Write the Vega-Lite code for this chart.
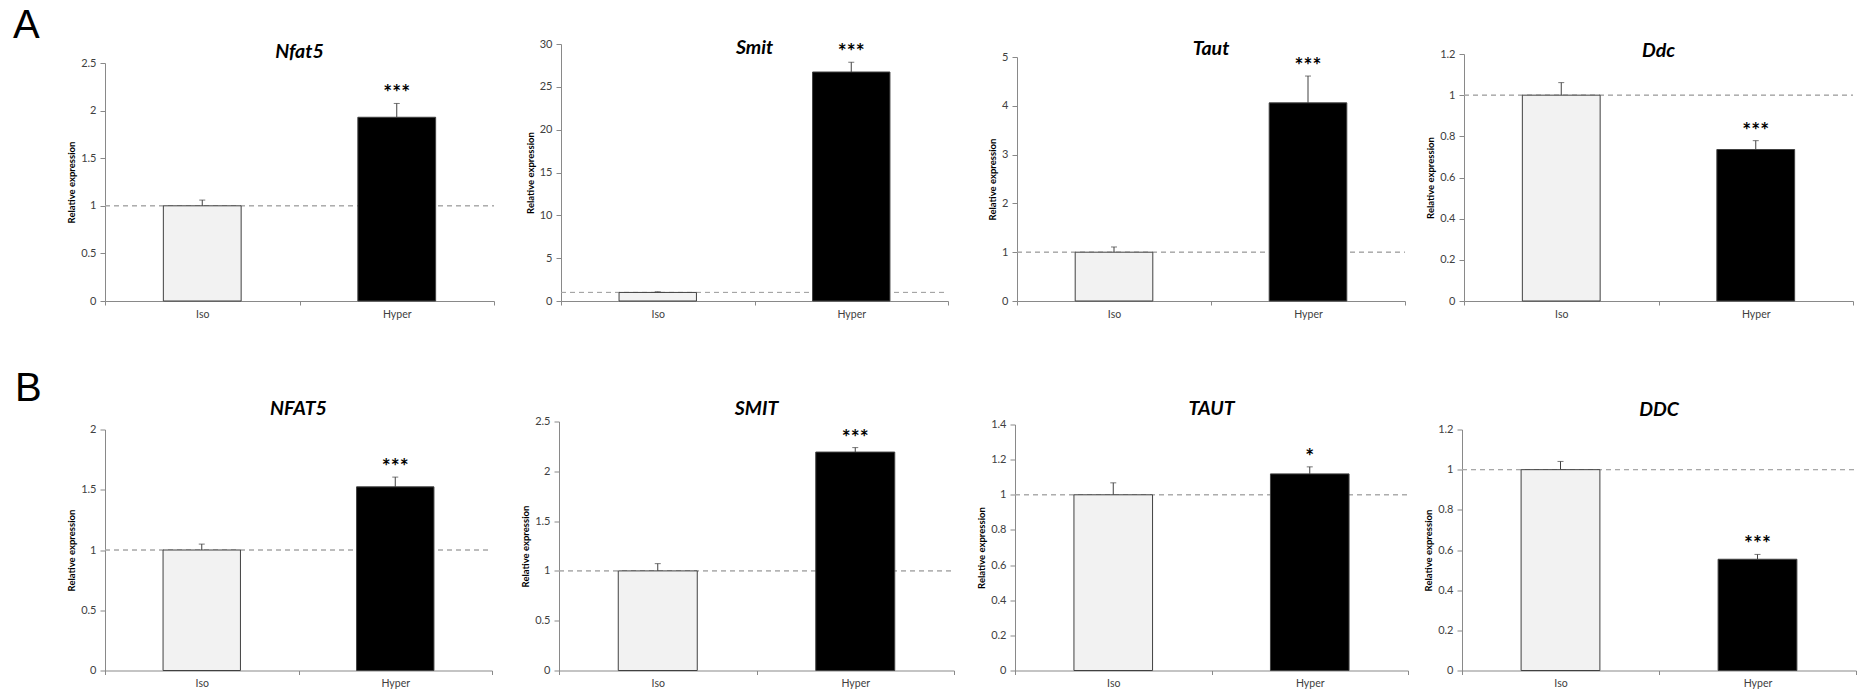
{
  "$schema": "https://vega.github.io/schema/vega-lite/v6.json",
  "padding": {"left": 13, "top": 5, "right": 0, "bottom": 0},
  "data": {"values": [
    {"gene": "Nfat5", "condition": "Iso", "expression": 1.0, "upper": 1.06, "sig": ""},
    {"gene": "Nfat5", "condition": "Hyper", "expression": 1.93, "upper": 2.075, "sig": "***"},
    {"gene": "Smit", "condition": "Iso", "expression": 1.0, "upper": 1.08, "sig": ""},
    {"gene": "Smit", "condition": "Hyper", "expression": 26.73, "upper": 27.87, "sig": "***"},
    {"gene": "Taut", "condition": "Iso", "expression": 1.0, "upper": 1.107, "sig": ""},
    {"gene": "Taut", "condition": "Hyper", "expression": 4.06, "upper": 4.61, "sig": "***"},
    {"gene": "Ddc", "condition": "Iso", "expression": 1.0, "upper": 1.061, "sig": ""},
    {"gene": "Ddc", "condition": "Hyper", "expression": 0.736, "upper": 0.779, "sig": "***"},
    {"gene": "NFAT5", "condition": "Iso", "expression": 1.0, "upper": 1.049, "sig": ""},
    {"gene": "NFAT5", "condition": "Hyper", "expression": 1.524, "upper": 1.605, "sig": "***"},
    {"gene": "SMIT", "condition": "Iso", "expression": 1.0, "upper": 1.073, "sig": ""},
    {"gene": "SMIT", "condition": "Hyper", "expression": 2.193, "upper": 2.238, "sig": "***"},
    {"gene": "TAUT", "condition": "Iso", "expression": 1.0, "upper": 1.068, "sig": ""},
    {"gene": "TAUT", "condition": "Hyper", "expression": 1.119, "upper": 1.159, "sig": "*"},
    {"gene": "DDC", "condition": "Iso", "expression": 1.0, "upper": 1.041, "sig": ""},
    {"gene": "DDC", "condition": "Hyper", "expression": 0.554, "upper": 0.578, "sig": "***"}
  ]},
  "spacing": 48.5,
  "vconcat": [
    {
      "title": {"text": "A", "font": "Liberation Sans", "fontSize": 40, "fontWeight": "normal", "fontStyle": "normal", "anchor": "start", "frame": "group", "dx": -92, "offset": -28, "baseline": "middle"},
      "bounds": "flush",
      "spacing": 59,
      "hconcat": [
        {
          "width": 397, "height": 257,
          "title": {"text": "Nfat5", "offset": -18, "dx": -4},
          "transform": [{"filter": {"field": "gene", "equal": "Nfat5"}}],
          "encoding": {"x": {"field": "condition", "type": "nominal", "title": null, "sort": ["Iso", "Hyper"], "scale": {"domain": ["Iso", "Hyper"], "paddingInner": 0, "paddingOuter": 0, "range": [0, 389]}}},
          "layer": [
            {"mark": {"type": "rule", "color": "#a6a6a6", "strokeDash": [5, 4], "strokeWidth": 1}, "encoding": {"x": {"datum": "Iso", "bandPosition": 0}, "x2": {"datum": "Hyper", "bandPosition": 1}, "y": {"datum": 1}}},
            {"mark": {"type": "bar", "width": {"band": 0.4}, "stroke": "#404040", "strokeWidth": 1}, "encoding": {
              "y": {"field": "expression", "type": "quantitative", "title": "Relative expression", "scale": {"domain": [0, 2.5], "range": [257, 19], "nice": false, "zero": true}, "axis": {"values": [0, 0.5, 1, 1.5, 2, 2.5], "format": "~g"}},
              "fill": {"field": "condition", "type": "nominal", "scale": {"domain": ["Iso", "Hyper"], "range": ["#f2f2f2", "#000000"]}, "legend": null}}},
            {"mark": {"type": "rule", "color": "#404040", "strokeWidth": 1}, "encoding": {"y": {"field": "expression", "type": "quantitative"}, "y2": {"field": "upper"}}},
            {"mark": {"type": "tick", "color": "#404040", "thickness": 1, "size": 6}, "encoding": {"y": {"field": "upper", "type": "quantitative"}}},
            {"mark": {"type": "text", "font": "Lato", "fontSize": 21, "fontWeight": "bold", "dy": -3, "baseline": "alphabetic", "color": "#000000"}, "encoding": {"y": {"field": "upper", "type": "quantitative"}, "text": {"field": "sig"}}}
          ]
        },
        {
          "width": 397, "height": 257,
          "title": {"text": "Smit", "offset": -20, "dx": -5},
          "transform": [{"filter": {"field": "gene", "equal": "Smit"}}],
          "encoding": {"x": {"field": "condition", "type": "nominal", "title": null, "sort": ["Iso", "Hyper"], "scale": {"domain": ["Iso", "Hyper"], "paddingInner": 0, "paddingOuter": 0, "range": [0, 387]}}},
          "layer": [
            {"mark": {"type": "rule", "color": "#a6a6a6", "strokeDash": [5, 4], "strokeWidth": 1}, "encoding": {"x": {"datum": "Iso", "bandPosition": 0}, "x2": {"datum": "Hyper", "bandPosition": 1}, "y": {"datum": 1}}},
            {"mark": {"type": "bar", "width": {"band": 0.4}, "stroke": "#404040", "strokeWidth": 1}, "encoding": {
              "y": {"field": "expression", "type": "quantitative", "title": "Relative expression", "scale": {"domain": [0, 30], "range": [257, 0], "nice": false, "zero": true}, "axis": {"values": [0, 5, 10, 15, 20, 25, 30], "format": "~g"}},
              "fill": {"field": "condition", "type": "nominal", "scale": {"domain": ["Iso", "Hyper"], "range": ["#f2f2f2", "#000000"]}, "legend": null}}},
            {"mark": {"type": "rule", "color": "#404040", "strokeWidth": 1}, "encoding": {"y": {"field": "expression", "type": "quantitative"}, "y2": {"field": "upper"}}},
            {"mark": {"type": "tick", "color": "#404040", "thickness": 1, "size": 6}, "encoding": {"y": {"field": "upper", "type": "quantitative"}}},
            {"mark": {"type": "text", "font": "Lato", "fontSize": 21, "fontWeight": "bold", "dy": -3, "baseline": "alphabetic", "color": "#000000"}, "encoding": {"y": {"field": "upper", "type": "quantitative"}, "text": {"field": "sig"}}}
          ]
        },
        {
          "width": 388, "height": 257,
          "title": {"text": "Taut", "offset": -15},
          "transform": [{"filter": {"field": "gene", "equal": "Taut"}}],
          "encoding": {"x": {"field": "condition", "type": "nominal", "title": null, "sort": ["Iso", "Hyper"], "scale": {"domain": ["Iso", "Hyper"], "paddingInner": 0, "paddingOuter": 0}}},
          "layer": [
            {"mark": {"type": "rule", "color": "#a6a6a6", "strokeDash": [5, 4], "strokeWidth": 1}, "encoding": {"x": {"datum": "Iso", "bandPosition": 0}, "x2": {"datum": "Hyper", "bandPosition": 1}, "y": {"datum": 1}}},
            {"mark": {"type": "bar", "width": {"band": 0.4}, "stroke": "#404040", "strokeWidth": 1}, "encoding": {
              "y": {"field": "expression", "type": "quantitative", "title": "Relative expression", "scale": {"domain": [0, 5], "range": [257, 13], "nice": false, "zero": true}, "axis": {"values": [0, 1, 2, 3, 4, 5], "format": "~g"}},
              "fill": {"field": "condition", "type": "nominal", "scale": {"domain": ["Iso", "Hyper"], "range": ["#f2f2f2", "#000000"]}, "legend": null}}},
            {"mark": {"type": "rule", "color": "#404040", "strokeWidth": 1}, "encoding": {"y": {"field": "expression", "type": "quantitative"}, "y2": {"field": "upper"}}},
            {"mark": {"type": "tick", "color": "#404040", "thickness": 1, "size": 6}, "encoding": {"y": {"field": "upper", "type": "quantitative"}}},
            {"mark": {"type": "text", "font": "Lato", "fontSize": 21, "fontWeight": "bold", "dy": -3, "baseline": "alphabetic", "color": "#000000"}, "encoding": {"y": {"field": "upper", "type": "quantitative"}, "text": {"field": "sig"}}}
          ]
        },
        {
          "width": 389, "height": 257,
          "title": {"text": "Ddc", "offset": -17},
          "transform": [{"filter": {"field": "gene", "equal": "Ddc"}}],
          "encoding": {"x": {"field": "condition", "type": "nominal", "title": null, "sort": ["Iso", "Hyper"], "scale": {"domain": ["Iso", "Hyper"], "paddingInner": 0, "paddingOuter": 0}}},
          "layer": [
            {"mark": {"type": "rule", "color": "#a6a6a6", "strokeDash": [5, 4], "strokeWidth": 1}, "encoding": {"x": {"datum": "Iso", "bandPosition": 0}, "x2": {"datum": "Hyper", "bandPosition": 1}, "y": {"datum": 1}}},
            {"mark": {"type": "bar", "width": {"band": 0.4}, "stroke": "#404040", "strokeWidth": 1}, "encoding": {
              "y": {"field": "expression", "type": "quantitative", "title": "Relative expression", "scale": {"domain": [0, 1.2], "range": [257, 10], "nice": false, "zero": true}, "axis": {"values": [0, 0.2, 0.4, 0.6, 0.8, 1, 1.2], "format": "~g"}},
              "fill": {"field": "condition", "type": "nominal", "scale": {"domain": ["Iso", "Hyper"], "range": ["#f2f2f2", "#000000"]}, "legend": null}}},
            {"mark": {"type": "rule", "color": "#404040", "strokeWidth": 1}, "encoding": {"y": {"field": "expression", "type": "quantitative"}, "y2": {"field": "upper"}}},
            {"mark": {"type": "tick", "color": "#404040", "thickness": 1, "size": 6}, "encoding": {"y": {"field": "upper", "type": "quantitative"}}},
            {"mark": {"type": "text", "font": "Lato", "fontSize": 21, "fontWeight": "bold", "dy": -3, "baseline": "alphabetic", "color": "#000000"}, "encoding": {"y": {"field": "upper", "type": "quantitative"}, "text": {"field": "sig"}}}
          ]
        }
      ]
    },
    {
      "title": {"text": "B", "font": "Liberation Sans", "fontSize": 40, "fontWeight": "normal", "fontStyle": "normal", "anchor": "start", "frame": "group", "dx": -90, "offset": -29.5, "baseline": "middle"},
      "bounds": "flush",
      "spacing": 54,
      "hconcat": [
        {
          "width": 400, "height": 249,
          "title": {"text": "NFAT5", "offset": 2, "dx": -6.5},
          "transform": [{"filter": {"field": "gene", "equal": "NFAT5"}}],
          "encoding": {"x": {"field": "condition", "type": "nominal", "title": null, "sort": ["Iso", "Hyper"], "scale": {"domain": ["Iso", "Hyper"], "paddingInner": 0, "paddingOuter": 0, "range": [0, 387]}}},
          "layer": [
            {"mark": {"type": "rule", "color": "#a6a6a6", "strokeDash": [5, 4], "strokeWidth": 1}, "encoding": {"x": {"datum": "Iso", "bandPosition": 0}, "x2": {"datum": "Hyper", "bandPosition": 1}, "y": {"datum": 1}}},
            {"mark": {"type": "bar", "width": {"band": 0.4}, "stroke": "#404040", "strokeWidth": 1}, "encoding": {
              "y": {"field": "expression", "type": "quantitative", "title": "Relative expression", "scale": {"domain": [0, 2], "range": [249, 8], "nice": false, "zero": true}, "axis": {"values": [0, 0.5, 1, 1.5, 2], "format": "~g"}},
              "fill": {"field": "condition", "type": "nominal", "scale": {"domain": ["Iso", "Hyper"], "range": ["#f2f2f2", "#000000"]}, "legend": null}}},
            {"mark": {"type": "rule", "color": "#404040", "strokeWidth": 1}, "encoding": {"y": {"field": "expression", "type": "quantitative"}, "y2": {"field": "upper"}}},
            {"mark": {"type": "tick", "color": "#404040", "thickness": 1, "size": 6}, "encoding": {"y": {"field": "upper", "type": "quantitative"}}},
            {"mark": {"type": "text", "font": "Lato", "fontSize": 21, "fontWeight": "bold", "dy": -3, "baseline": "alphabetic", "color": "#000000"}, "encoding": {"y": {"field": "upper", "type": "quantitative"}, "text": {"field": "sig"}}}
          ]
        },
        {
          "width": 402, "height": 249,
          "title": {"text": "SMIT", "offset": -4, "dx": -3.5},
          "transform": [{"filter": {"field": "gene", "equal": "SMIT"}}],
          "encoding": {"x": {"field": "condition", "type": "nominal", "title": null, "sort": ["Iso", "Hyper"], "scale": {"domain": ["Iso", "Hyper"], "paddingInner": 0, "paddingOuter": 0, "range": [0, 395]}}},
          "layer": [
            {"mark": {"type": "rule", "color": "#a6a6a6", "strokeDash": [5, 4], "strokeWidth": 1}, "encoding": {"x": {"datum": "Iso", "bandPosition": 0}, "x2": {"datum": "Hyper", "bandPosition": 1}, "y": {"datum": 1}}},
            {"mark": {"type": "bar", "width": {"band": 0.4}, "stroke": "#404040", "strokeWidth": 1}, "encoding": {
              "y": {"field": "expression", "type": "quantitative", "title": "Relative expression", "scale": {"domain": [0, 2.5], "range": [249, 0], "nice": false, "zero": true}, "axis": {"values": [0, 0.5, 1, 1.5, 2, 2.5], "format": "~g"}},
              "fill": {"field": "condition", "type": "nominal", "scale": {"domain": ["Iso", "Hyper"], "range": ["#f2f2f2", "#000000"]}, "legend": null}}},
            {"mark": {"type": "rule", "color": "#404040", "strokeWidth": 1}, "encoding": {"y": {"field": "expression", "type": "quantitative"}, "y2": {"field": "upper"}}},
            {"mark": {"type": "tick", "color": "#404040", "thickness": 1, "size": 6}, "encoding": {"y": {"field": "upper", "type": "quantitative"}}},
            {"mark": {"type": "text", "font": "Lato", "fontSize": 21, "fontWeight": "bold", "dy": -3, "baseline": "alphabetic", "color": "#000000"}, "encoding": {"y": {"field": "upper", "type": "quantitative"}, "text": {"field": "sig"}}}
          ]
        },
        {
          "width": 393, "height": 249,
          "title": {"text": "TAUT", "offset": -1},
          "transform": [{"filter": {"field": "gene", "equal": "TAUT"}}],
          "encoding": {"x": {"field": "condition", "type": "nominal", "title": null, "sort": ["Iso", "Hyper"], "scale": {"domain": ["Iso", "Hyper"], "paddingInner": 0, "paddingOuter": 0}}},
          "layer": [
            {"mark": {"type": "rule", "color": "#a6a6a6", "strokeDash": [5, 4], "strokeWidth": 1}, "encoding": {"x": {"datum": "Iso", "bandPosition": 0}, "x2": {"datum": "Hyper", "bandPosition": 1}, "y": {"datum": 1}}},
            {"mark": {"type": "bar", "width": {"band": 0.4}, "stroke": "#404040", "strokeWidth": 1}, "encoding": {
              "y": {"field": "expression", "type": "quantitative", "title": "Relative expression", "scale": {"domain": [0, 1.4], "range": [249, 3], "nice": false, "zero": true}, "axis": {"values": [0, 0.2, 0.4, 0.6, 0.8, 1, 1.2, 1.4], "format": "~g"}},
              "fill": {"field": "condition", "type": "nominal", "scale": {"domain": ["Iso", "Hyper"], "range": ["#f2f2f2", "#000000"]}, "legend": null}}},
            {"mark": {"type": "rule", "color": "#404040", "strokeWidth": 1}, "encoding": {"y": {"field": "expression", "type": "quantitative"}, "y2": {"field": "upper"}}},
            {"mark": {"type": "tick", "color": "#404040", "thickness": 1, "size": 6}, "encoding": {"y": {"field": "upper", "type": "quantitative"}}},
            {"mark": {"type": "text", "font": "Lato", "fontSize": 21, "fontWeight": "bold", "dy": -3, "baseline": "alphabetic", "color": "#000000"}, "encoding": {"y": {"field": "upper", "type": "quantitative"}, "text": {"field": "sig"}}}
          ]
        },
        {
          "width": 394, "height": 249,
          "title": {"text": "DDC", "offset": 1},
          "transform": [{"filter": {"field": "gene", "equal": "DDC"}}],
          "encoding": {"x": {"field": "condition", "type": "nominal", "title": null, "sort": ["Iso", "Hyper"], "scale": {"domain": ["Iso", "Hyper"], "paddingInner": 0, "paddingOuter": 0}}},
          "layer": [
            {"mark": {"type": "rule", "color": "#a6a6a6", "strokeDash": [5, 4], "strokeWidth": 1}, "encoding": {"x": {"datum": "Iso", "bandPosition": 0}, "x2": {"datum": "Hyper", "bandPosition": 1}, "y": {"datum": 1}}},
            {"mark": {"type": "bar", "width": {"band": 0.4}, "stroke": "#404040", "strokeWidth": 1}, "encoding": {
              "y": {"field": "expression", "type": "quantitative", "title": "Relative expression", "scale": {"domain": [0, 1.2], "range": [249, 8], "nice": false, "zero": true}, "axis": {"values": [0, 0.2, 0.4, 0.6, 0.8, 1, 1.2], "format": "~g"}},
              "fill": {"field": "condition", "type": "nominal", "scale": {"domain": ["Iso", "Hyper"], "range": ["#f2f2f2", "#000000"]}, "legend": null}}},
            {"mark": {"type": "rule", "color": "#404040", "strokeWidth": 1}, "encoding": {"y": {"field": "expression", "type": "quantitative"}, "y2": {"field": "upper"}}},
            {"mark": {"type": "tick", "color": "#404040", "thickness": 1, "size": 6}, "encoding": {"y": {"field": "upper", "type": "quantitative"}}},
            {"mark": {"type": "text", "font": "Lato", "fontSize": 21, "fontWeight": "bold", "dy": -3, "baseline": "alphabetic", "color": "#000000"}, "encoding": {"y": {"field": "upper", "type": "quantitative"}, "text": {"field": "sig"}}}
          ]
        }
      ]
    }
  ],
  "config": {
    "view": {"stroke": null},
    "font": "Lato",
    "axis": {"grid": false, "domainColor": "#898989", "tickColor": "#898989", "labelColor": "#404040", "labelFont": "Lato", "titleFont": "Lato", "titleFontSize": 9.5, "titleFontWeight": "bold", "titleColor": "#000000", "domainWidth": 1, "tickWidth": 1},
    "axisX": {"tickSize": 4, "labelPadding": 4, "labelAngle": 0, "tickBand": "extent", "labelFontSize": 10.5},
    "axisY": {"tickSize": 5, "labelPadding": 4, "titlePadding": 4, "labelOverlap": false, "tickCount": 12, "labelFontSize": 11},
    "title": {"font": "Lato", "fontSize": 19.5, "fontStyle": "italic", "fontWeight": "bold", "color": "#000000", "anchor": "middle", "frame": "group", "baseline": "middle"}
  }
}
